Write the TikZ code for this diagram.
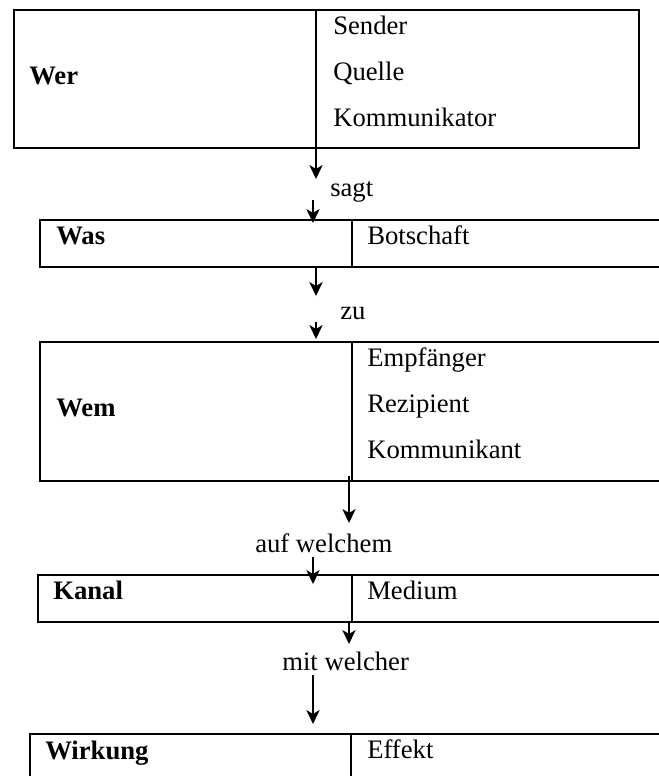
\documentclass[tikz,border=0pt]{standalone}
\usepackage{fontspec}
\setmainfont{Liberation Serif}
\usetikzlibrary{arrows.meta,fit}

\begin{document}
\begin{tikzpicture}[
    x=0.75pt, y=-0.75pt,
    cell/.style={draw, line width=1.5pt, rectangle, inner sep=0pt, outer sep=0pt},
    lbl/.style={anchor=base west, inner sep=0pt, font=\fontsize{20}{24}\selectfont},
    key/.style={lbl, font=\fontsize{20}{24}\selectfont\bfseries},
    flow/.style={draw, line width=0.8pt, -{Stealth[length=10.5pt,width=10pt,inset=3pt]}}
  ]
  \useasboundingbox (0,0) rectangle (659,776);
  \clip (0,0) rectangle (659,776);

  % row 1: Wer
  \node[cell, fit={(14,10) (316,148)}] (wer) {};
  \node[cell, fit={(316,10) (639,148)}] (wer-r) {};
  \node[key] (t-wer) at (29,84) {Wer};
  \node[lbl] (t-sender) at (333,34) {Sender};
  \node[lbl] (t-quelle) at (333,80) {Quelle};
  \node[lbl] (t-komm) at (333,126) {Kommunikator};

  % row 2: Was
  \node[cell, fit={(40,220) (352,267)}] (was) {};
  \node[cell, fit={(352,220) (700,267)}] (was-r) {};
  \node[key] (t-was) at (56,244) {Was};
  \node[lbl] (t-botschaft) at (367,244) {Botschaft};

  % row 3: Wem
  \node[cell, fit={(40,342) (352,481)}] (wem) {};
  \node[cell, fit={(352,342) (700,481)}] (wem-r) {};
  \node[key] (t-wem) at (56,416) {Wem};
  \node[lbl] (t-empf) at (367,366) {Empfänger};
  \node[lbl] (t-rezi) at (367,412) {Rezipient};
  \node[lbl] (t-kommt) at (367,458) {Kommunikant};

  % row 4: Kanal
  \node[cell, fit={(38,575) (352,622)}] (kanal) {};
  \node[cell, fit={(352,575) (700,622)}] (kanal-r) {};
  \node[key] (t-kanal) at (53,599) {Kanal};
  \node[lbl] (t-medium) at (367,599) {Medium};

  % row 5: Wirkung
  \node[cell, fit={(30,734) (351,800)}] (wirk) {};
  \node[cell, fit={(351,734) (700,800)}] (wirk-r) {};
  \node[key] (t-wirk) at (45,759) {Wirkung};
  \node[lbl] (t-effekt) at (367,758) {Effekt};

  % connecting words
  \node[lbl] (sagt) at (330,196) {sagt};
  \node[lbl] (zu) at (340,319) {zu};
  \node[lbl] (auf) at (255,552) {auf welchem};
  \node[lbl] (mit) at (282,670) {mit welcher};

  % arrow end points
  \coordinate (a1e) at (316,179);
  \coordinate (a2s) at (313,200);
  \coordinate (a2e) at (313,223);
  \coordinate (a3s) at (316,267);
  \coordinate (a3e) at (316,296);
  \coordinate (a4s) at (316,322);
  \coordinate (a4e) at (316,339);
  \coordinate (a5s) at (349,476);
  \coordinate (a5e) at (349,523);
  \coordinate (a6s) at (313,557);
  \coordinate (a6e) at (313,584);
  \coordinate (a7s) at (349,622);
  \coordinate (a7e) at (349,644);
  \coordinate (a8s) at (313,675);
  \coordinate (a8e) at (313,724);

  \draw[flow] (wer.south east) -- (a1e);
  \draw[flow] (a2s) -- (a2e);
  \draw[flow] (a3s) -- (a3e);
  \draw[flow] (a4s) -- (a4e);
  \draw[flow] (a5s) -- (a5e);
  \draw[flow] (a6s) -- (a6e);
  \draw[flow] (a7s) -- (a7e);
  \draw[flow] (a8s) -- (a8e);
\end{tikzpicture}
\end{document}
